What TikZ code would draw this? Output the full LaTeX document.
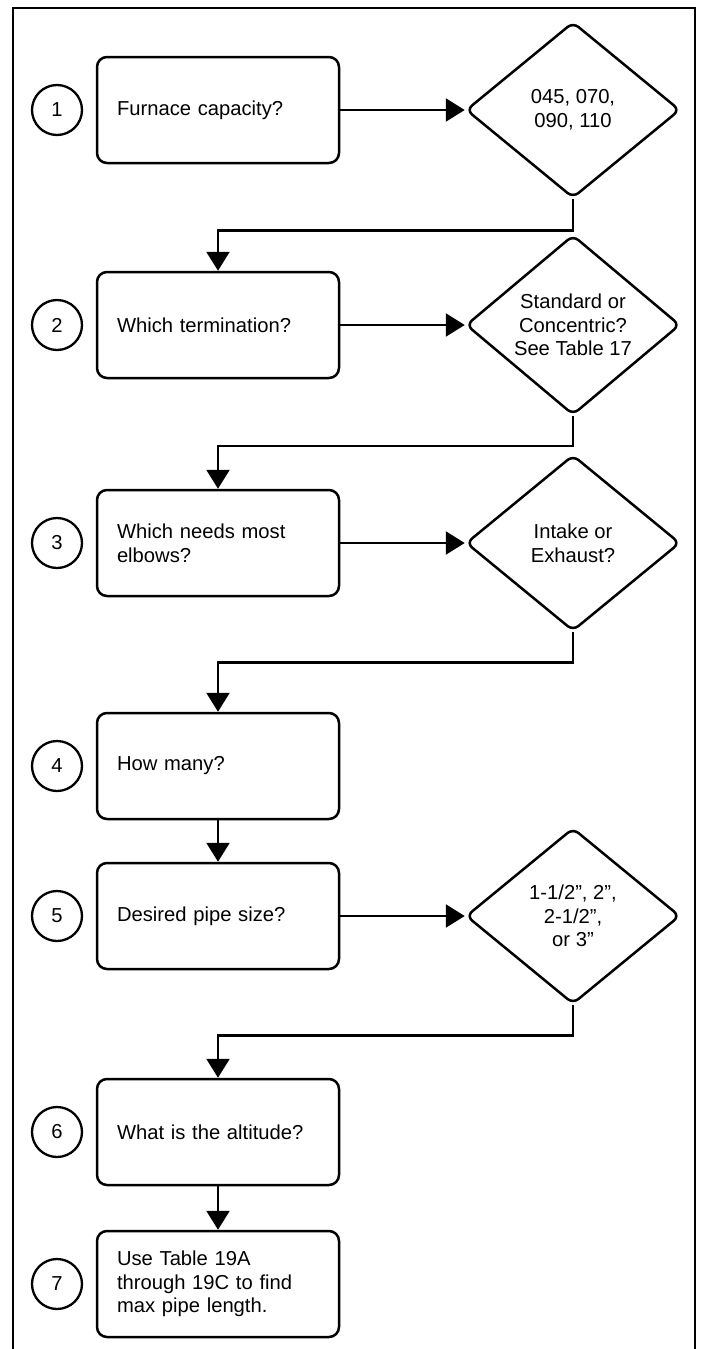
\documentclass[tikz,border=0pt]{standalone}
\usepackage{fontspec}
\setmainfont{Liberation Sans}
\usetikzlibrary{shapes.geometric,arrows.meta}
\begin{document}
\begin{tikzpicture}[x=1pt,y=-1pt,
  every node/.style={font=\fontsize{20.2}{23.6}\selectfont},
  stepbox/.style={draw, rectangle, rounded corners=10pt, line width=2.5pt,
    minimum height=106pt, text width=202pt, inner xsep=20pt, inner ysep=0pt, align=left},
  decbox/.style={draw, diamond, rounded corners=7pt, line width=2.5pt,
    minimum width=214pt, minimum height=176pt, inner sep=0pt, align=center},
  numc/.style={draw, circle, line width=2.3pt, minimum size=50pt, inner sep=0pt},
  conn/.style={line width=2.5pt, -{Triangle[length=19pt,width=23pt]}},
  frameline/.style={line width=2.8pt}
]
\useasboundingbox (0,0) rectangle (703,1349);
\fill[white] (0,0) rectangle (703,1349);
\draw[frameline] (13,1352) -- (13,8) -- (695,8) -- (695,1352);

% row 1
\node[numc] (c1) at (57,110) {1};
\node[stepbox] (b1) at (218,110) {Furnace capacity?};
\node[decbox] (d1) at (573,110) {045, 070,\\090, 110};
% row 2
\node[numc] (c2) at (57,325) {2};
\node[stepbox] (b2) at (218,325) {Which termination?};
\node[decbox] (d2) at (573,325) {Standard or\\Concentric?\\See Table 17};
% row 3
\node[numc] (c3) at (57,543) {3};
\node[stepbox] (b3) at (218,543) {Which needs most\\elbows?};
\node[decbox] (d3) at (573,543) {Intake or\\Exhaust?};
% row 4
\node[numc] (c4) at (57,766) {4};
\node[stepbox] (b4) at (218,766) {How many?};
% row 5
\node[numc] (c5) at (57,916) {5};
\node[stepbox] (b5) at (218,916) {Desired pipe size?};
\node[decbox] (d5) at (573,916) {1-1/2”, 2”,\\2-1/2”,\\or 3”};
% row 6
\node[numc] (c6) at (57,1132) {6};
\node[stepbox] (b6) at (218,1132) {What is the altitude?};
% row 7
\node[numc] (c7) at (57,1284) {7};
\node[stepbox] (b7) at (218,1284) {Use Table 19A\\through 19C to find\\max pipe length.};

% connectors
\draw[conn] (b1.east) -- (d1.west);
\draw[conn] (d1.south) -- ++(0,31) -| (b2.north);
\draw[conn] (b2.east) -- (d2.west);
\draw[conn] (d2.south) -- ++(0,30) -| (b3.north);
\draw[conn] (b3.east) -- (d3.west);
\draw[conn] (d3.south) -- ++(0,30) -| (b4.north);
\draw[conn] (b4.south) -- (b5.north);
\draw[conn] (b5.east) -- (d5.west);
\draw[conn] (d5.south) -- ++(0,30) -| (b6.north);
\draw[conn] (b6.south) -- (b7.north);
\end{tikzpicture}
\end{document}
